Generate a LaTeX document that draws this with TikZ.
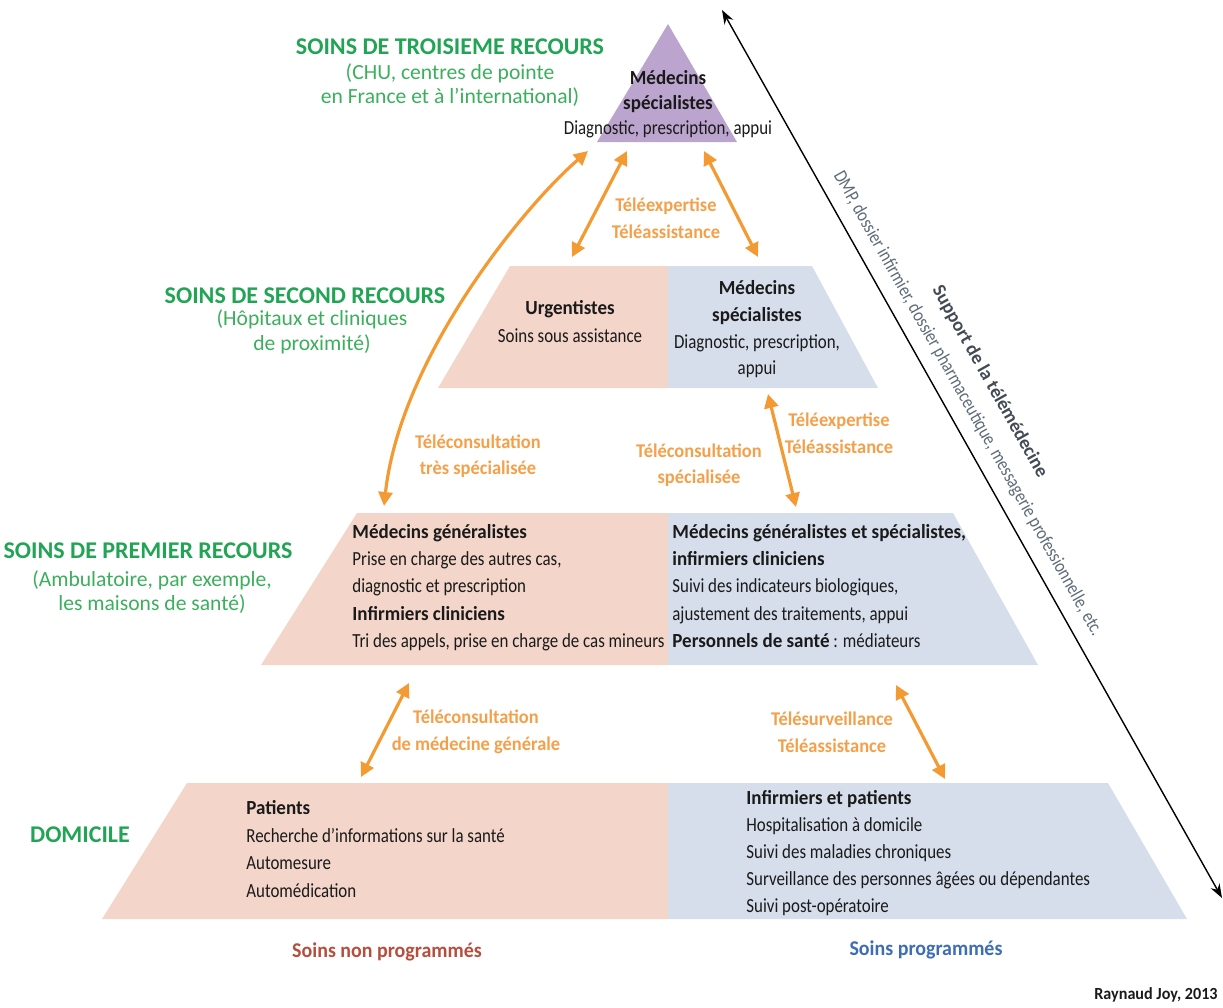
\documentclass[tikz,border=0pt]{standalone}
\usepackage{fontspec}
\setmainfont{Carlito}[FakeStretch=0.845, BoldFeatures={FakeStretch=0.95}]
\newfontfamily\titlefont{Carlito}
\usetikzlibrary{arrows.meta}
\definecolor{pinkfill}{HTML}{F3D5C9}
\definecolor{bluefill}{HTML}{D6DDEB}
\definecolor{purplefill}{HTML}{BBA4CE}
\definecolor{arroworange}{HTML}{F39B32}
\definecolor{labelorange}{HTML}{F4A04A}
\definecolor{titlegreen}{HTML}{22A455}
\definecolor{subgreen}{HTML}{3BAF5C}
\definecolor{nonprog}{HTML}{B54E3E}
\definecolor{prog}{HTML}{3D6DB3}
\definecolor{diaggrey}{HTML}{5E6B78}
\definecolor{bodyblack}{HTML}{1A1A1A}
\begin{document}
\begin{tikzpicture}[x=0.5pt,y=-0.5pt,
  body/.style={inner sep=0pt, text=bodyblack, font=\fontsize{10}{13.6}\selectfont},
  leftblock/.style={body, align=left, anchor=north west},
  centerblock/.style={body, align=center, anchor=north},
  maintitle/.style={inner sep=0pt, text=titlegreen, font=\titlefont\bfseries\fontsize{12}{13}\selectfont},
  subtitle/.style={inner sep=0pt, align=center, text=subgreen, font=\titlefont\fontsize{10.8}{12.3}\selectfont},
  tlabel/.style={inner sep=0pt, align=center, text=labelorange, font=\bfseries\fontsize{9.7}{13.3}\selectfont},
  linkarrow/.style={draw=arroworange, line width=1.6pt, {Triangle[length=7pt,width=7pt]}-{Triangle[length=7pt,width=7pt]}},
  careslabel/.style={inner sep=0pt, font=\bfseries\fontsize{10.5}{12}\selectfont}
]
\useasboundingbox (0,0) rectangle (1223,1008);

% ---- pyramid shapes ----
\fill[purplefill] (668,24) -- (737,142) -- (597,142) -- cycle;
\fill[pinkfill] (510,266) -- (668,266) -- (668,388) -- (438,388) -- cycle;
\fill[bluefill] (668,266) -- (812,266) -- (878,388) -- (668,388) -- cycle;
\fill[pinkfill] (357,513) -- (668,513) -- (668,665) -- (261,665) -- cycle;
\fill[bluefill] (668,513) -- (953,513) -- (1038,665) -- (668,665) -- cycle;
\fill[pinkfill] (187,783) -- (668,783) -- (668,919) -- (102,919) -- cycle;
\fill[bluefill] (668,783) -- (1108,783) -- (1187,919) -- (668,919) -- cycle;

% ---- texts in the pyramid ----
\node[centerblock, font=\fontsize{10}{12.5}\selectfont] (tri) at (668,70)
  {\textbf{Médecins}\\\textbf{spécialistes}\\Diagnostic, prescription, appui};
\node[centerblock, font=\fontsize{10}{14}\selectfont] (urg) at (570,300)
  {\textbf{Urgentistes}\\Soins sous assistance};
\node[centerblock, font=\fontsize{10}{13.4}\selectfont] (spec) at (757,280)
  {\textbf{Médecins}\\\textbf{spécialistes}\\Diagnostic, prescription,\\appui};
\node[leftblock] (gen) at (352,524)
  {\textbf{Médecins généralistes}\\Prise en charge des autres cas,\\diagnostic et prescription\\\textbf{Infirmiers cliniciens}\\Tri des appels, prise en charge de cas mineurs};
\node[leftblock] (gsp) at (672,524)
  {\textbf{Médecins généralistes et spécialistes,}\\\textbf{infirmiers cliniciens}\\Suivi des indicateurs biologiques,\\ajustement des traitements, appui\\\textbf{Personnels de santé} : médiateurs};
\node[leftblock, font=\fontsize{10}{13.8}\selectfont] (pat) at (246,800)
  {\textbf{Patients}\\Recherche d’informations sur la santé\\Automesure\\Automédication};
\node[leftblock, font=\fontsize{10}{13.5}\selectfont] (inf) at (746,790)
  {\textbf{Infirmiers et patients}\\Hospitalisation à domicile\\Suivi des maladies chroniques\\Surveillance des personnes âgées ou dépendantes\\Suivi post-opératoire};

% ---- level titles ----
\node[maintitle] (t3) at (450,47) {SOINS DE TROISIEME RECOURS};
\node[subtitle] (s3) at (450,85) {(CHU, centres de pointe\\en France et à l’international)};
\node[maintitle] (t2) at (305,296) {SOINS DE SECOND RECOURS};
\node[subtitle] (s2) at (312,332) {(Hôpitaux et cliniques\\de proximité)};
\node[maintitle] (t1) at (148,551) {SOINS DE PREMIER RECOURS};
\node[subtitle] (s1) at (152,592) {(Ambulatoire, par exemple,\\les maisons de santé)};
\node[maintitle] (t0) at (80,835) {DOMICILE};

% ---- arrow endpoints ----
\coordinate (c1a) at (588,151);
\coordinate (c1b) at (384,506);
\coordinate (a2a) at (627,151);
\coordinate (a2b) at (572,257);
\coordinate (a3a) at (704,151);
\coordinate (a3b) at (758,257);
\coordinate (a4a) at (768,394);
\coordinate (a4b) at (796,507);
\coordinate (a5a) at (409,683);
\coordinate (a5b) at (361,777);
\coordinate (a6a) at (896,685);
\coordinate (a6b) at (945,779);

\draw[linkarrow] (c1a) .. controls (520,210) and (400,360) .. (c1b);
\draw[linkarrow] (a2a) -- (a2b);
\draw[linkarrow] (a3a) -- (a3b);
\draw[linkarrow] (a4a) -- (a4b);
\draw[linkarrow] (a5a) -- (a5b);
\draw[linkarrow] (a6a) -- (a6b);

% ---- arrow labels ----
\node[tlabel] (l1) at (666,218) {Téléexpertise\\Téléassistance};
\node[tlabel] (l2) at (478,456) {Téléconsultation\\très spécialisée};
\node[tlabel] (l3) at (699,465) {Téléconsultation\\spécialisée};
\node[tlabel] (l4) at (839,433) {Téléexpertise\\Téléassistance};
\node[tlabel] (l5) at (476,732) {Téléconsultation\\de médecine générale};
\node[tlabel] (l6) at (832,732) {Télésurveillance\\Téléassistance};

% ---- bottom labels ----
\node[careslabel, text=nonprog] (np) at (387,952) {Soins non programmés};
\node[careslabel, text=prog] (pr) at (926,950) {Soins programmés};
\node[inner sep=0pt, anchor=east, font=\bfseries\fontsize{8.5}{10}\selectfont, text=bodyblack] (credit) at (1218,995) {Raynaud Joy, 2013};

% ---- telemedicine support axis ----
\coordinate (dtop) at (722,10);
\coordinate (dbot) at (1222,898);
\draw[line width=0.7pt, {Stealth[length=7pt,width=5pt]}-{Stealth[length=7pt,width=5pt]}] (dtop) --
  node[pos=0.455, sloped, above=6pt, inner sep=0pt, text=diaggrey, font=\fontsize{9.6}{11}\selectfont] (dmp)
    {DMP, dossier infirmier, dossier pharmaceutique, messagerie professionnelle, etc.}
  node[pos=0.447, sloped, above=21pt, inner sep=0pt, text=diaggrey!70!black, font=\titlefont\bfseries\fontsize{9.5}{10}\selectfont] (sup)
    {Support de la télémédecine}
  (dbot);
\end{tikzpicture}
\end{document}
